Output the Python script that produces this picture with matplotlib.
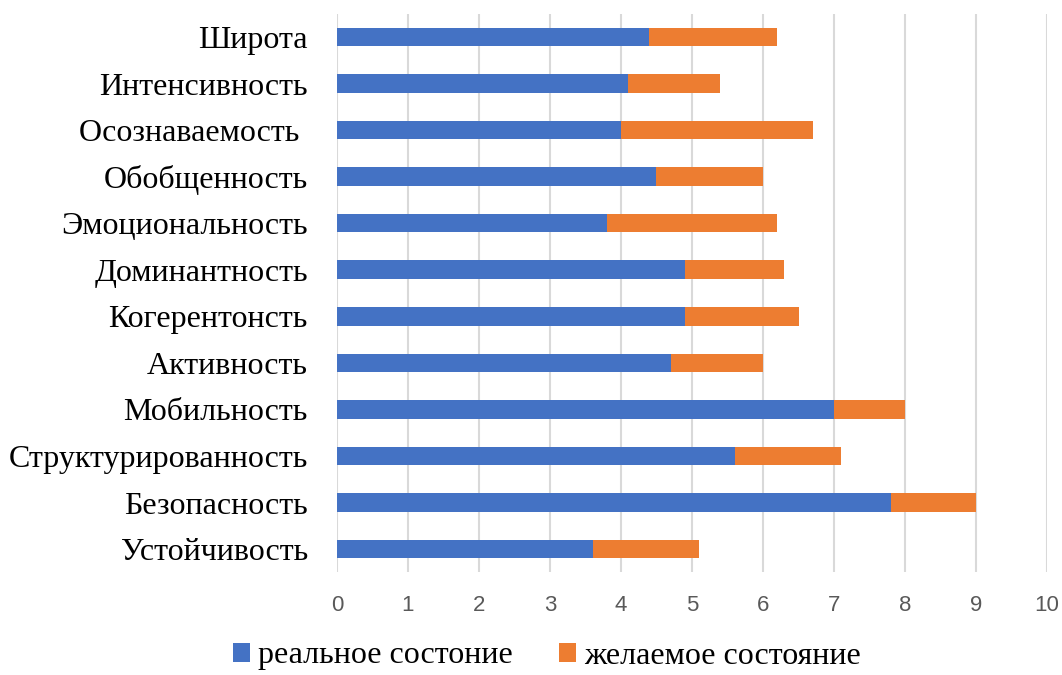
import matplotlib
matplotlib.use("Agg")
import matplotlib.pyplot as plt

# Data (top to bottom as shown in the chart)
categories = ["Широта", "Интенсивность", "Осознаваемость ", "Обобщенность",
              "Эмоциональность", "Доминантность", "Когерентонсть", "Активность",
              "Мобильность", "Структурированность", "Безопасность", "Устойчивость"]
real_state = [4.4, 4.1, 4.0, 4.5, 3.8, 4.9, 4.9, 4.7, 7.0, 5.6, 7.8, 3.6]
desired_extra = [1.8, 1.3, 2.7, 1.5, 2.4, 1.4, 1.6, 1.3, 1.0, 1.5, 1.2, 1.5]
x_ticks = [0, 1, 2, 3, 4, 5, 6, 7, 8, 9, 10]
legend_labels = ["реальное состоние", "желаемое состояние"]

blue = "#4472C4"
orange = "#ED7D31"
serif = "Liberation Serif"

fig = plt.figure(figsize=(10.62, 6.75), dpi=100)
ax = fig.add_axes([0.3173, 0.1521, 0.6686, 0.8276])

y = list(range(len(categories)))
ax.barh(y, real_state, height=0.4, color=blue, label=legend_labels[0], zorder=3)
ax.barh(y, desired_extra, left=real_state, height=0.4, color=orange,
        label=legend_labels[1], zorder=3)

ax.set_ylim(len(categories) - 0.5, -0.5)
ax.set_xlim(0, 10)
ax.set_xticks(x_ticks)
ax.set_yticks(y)
ax.set_yticklabels(categories, fontsize=23, family=serif, color="black")
ax.tick_params(axis="y", length=0, pad=21)
ax.tick_params(axis="x", length=0, pad=16, labelsize=16, labelcolor="#595959")
for lab in ax.get_xticklabels():
    lab.set_family("Liberation Sans")

ax.grid(axis="x", color="#d9d9d9", linewidth=1.5, zorder=0)
for s in ax.spines.values():
    s.set_visible(False)

fig.legend(loc="center", bbox_to_anchor=(547 / 1062, 1 - 656 / 675), ncol=2,
           frameon=False, prop={"family": serif, "size": 23},
           handlelength=0.53, handleheight=0.53, handletextpad=0.25,
           columnspacing=1.45, borderpad=0)

fig.savefig("out.png", dpi=100)
